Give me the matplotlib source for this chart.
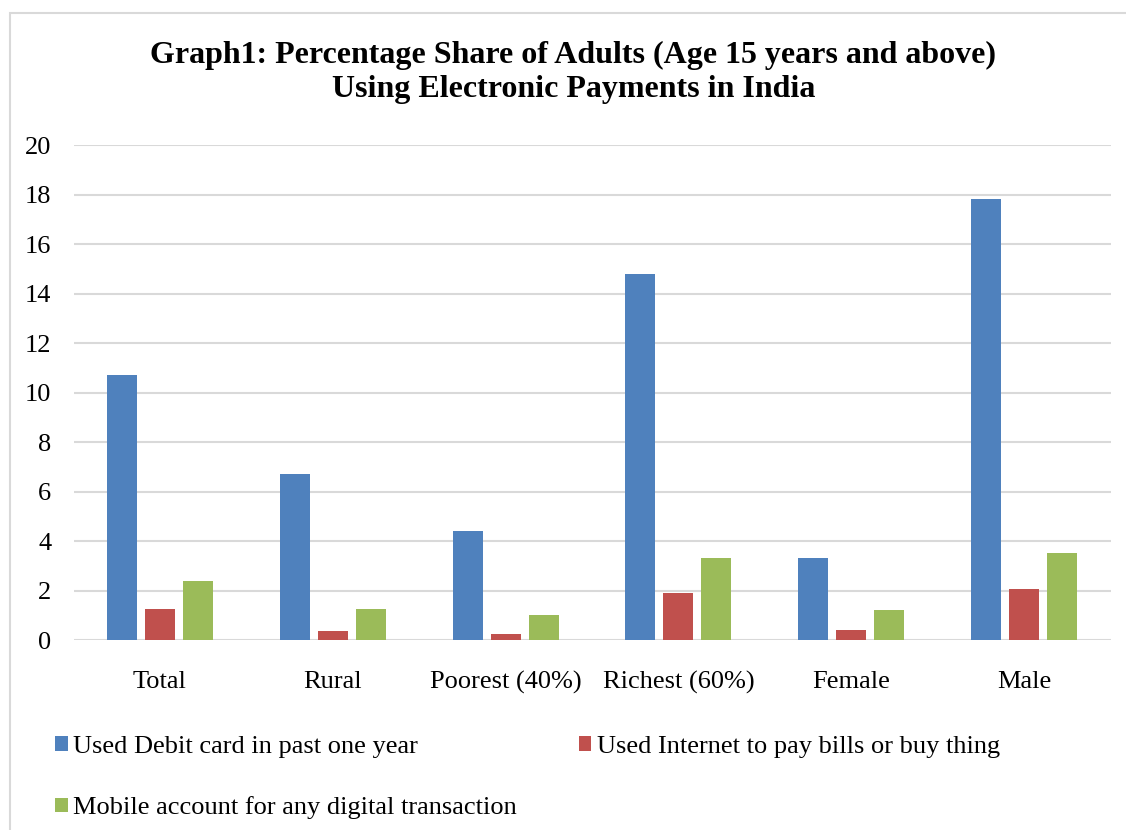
import matplotlib.pyplot as plt
import numpy as np
from matplotlib.patches import Rectangle

categories = ["Total", "Rural", "Poorest (40%)", "Richest (60%)", "Female", "Male"]
debit_card = [10.7, 6.7, 4.4, 14.8, 3.3, 17.8]
internet_pay = [1.25, 0.35, 0.25, 1.9, 0.4, 2.05]
mobile_account = [2.4, 1.25, 1.0, 3.3, 1.2, 3.5]
series_names = [
    "Used Debit card in past one year",
    "Used Internet to pay bills or buy thing",
    "Mobile account for any digital transaction",
]
colors = ["#4f81bd", "#c0504d", "#9bbb59"]

plt.rcParams["font.family"] = ["Liberation Serif", "DejaVu Serif"]

fig = plt.figure(figsize=(11.26, 8.3), dpi=100)
# thin grey frame round the chart area
fig.patches.append(Rectangle((10 / 1126, -0.05), 1.1, 1 - 13 / 830 + 0.05,
                             transform=fig.transFigure, fill=False,
                             edgecolor="#d9d9d9", linewidth=1.5))

ax = fig.add_axes([73.5 / 1126, 1 - 640 / 830, 1037 / 1126, 495 / 830])

x = np.arange(len(categories))
width = 30 / 173
step = 38 / 173
bars = []
for i, (vals, name, c) in enumerate(zip([debit_card, internet_pay, mobile_account], series_names, colors)):
    b = ax.bar(x + (i - 1) * step, vals, width, color=c, label=name, zorder=3)
    bars.append(b)

ax.set_xlim(-0.5, len(categories) - 0.5)
ax.set_ylim(0, 20)
ax.set_yticks(range(0, 21, 2))
ax.set_xticks(x)
ax.set_xticklabels(categories)
ax.yaxis.grid(True, color="#d9d9d9", linewidth=1.5, zorder=0)
for s in ax.spines.values():
    s.set_visible(False)
ax.tick_params(axis="both", length=0, labelsize=19)
ax.tick_params(axis="x", pad=22)
ax.tick_params(axis="y", pad=16)

title_x = 573.5 / 1126
fig.text(title_x, 1 - 55 / 830, "Graph1: Percentage Share of Adults (Age 15 years and above)",
         ha="center", va="center", fontsize=23, fontweight="bold")
fig.text(title_x, 1 - 90 / 830, "Using Electronic Payments in India",
         ha="center", va="center", fontsize=23, fontweight="bold")

# column-major fill: debit + mobile in first column, internet in second
handles = [bars[0], bars[2], bars[1]]
labels = [series_names[0], series_names[2], series_names[1]]
fig.legend(handles, labels, ncol=2, loc="upper left",
           bbox_to_anchor=(55 / 1126, 1 - 736 / 830), frameon=False,
           borderpad=0, borderaxespad=0,
           fontsize=19, handlelength=0.48, handleheight=0.48, handletextpad=0.2,
           columnspacing=2.35, labelspacing=1.45)

fig.savefig("out.png", dpi=100)
